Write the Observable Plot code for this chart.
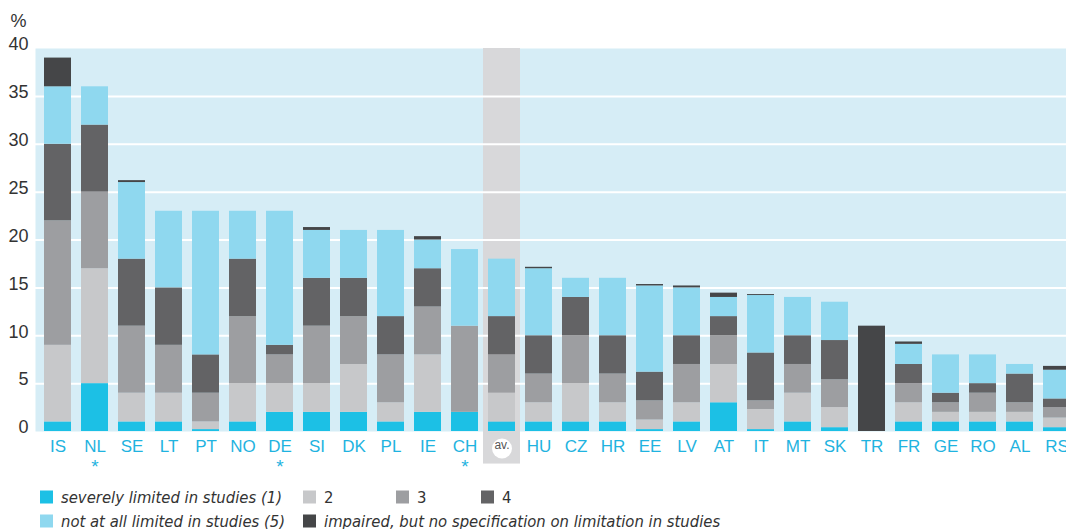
<!DOCTYPE html>
<html><head><meta charset="utf-8">
<script src="https://cdn.jsdelivr.net/npm/d3@7"></script>
<script src="https://cdn.jsdelivr.net/npm/@observablehq/plot@0.6"></script>
<style>
html,body{margin:0;padding:0;background:#fff;overflow:hidden;width:1066px;height:529px}
#wrap{position:relative;width:1066px;height:529px}
#chart svg{display:block;max-width:none}
#legend{position:absolute;left:0;top:0;width:1066px;height:529px;pointer-events:none;font-family:"Liberation Sans Narrow","DejaVu Sans Condensed",sans-serif;font-size:16.5px;color:#333}
.item{position:absolute;display:flex;align-items:center;white-space:nowrap;transform:translateY(-50%)}
.sw{width:13px;height:13px;margin-right:8px;flex:none}
.it{font-style:italic}
</style></head><body><div id="wrap"><div id="chart"></div><div id="legend"></div></div>
<script>
// ---- data ----
const countries = ["IS","NL","SE","LT","PT","NO","DE","SI","DK","PL","IE","CH","av.","HU","CZ","HR","EE","LV","AT","IT","MT","SK","TR","FR","GE","RO","AL","RS"];
const severelyLimited = [1,5,1,1,0.2,1,2,2,2,1,2,2,1,1,1,1,0.2,1,3,0.2,1,0.4,0,1,1,1,1,0.4];
const level2          = [8,12,3,3,0.8,4,3,3,5,2,6,0,3,2,4,2,1,2,4,2.1,3,2.1,0,2,1,1,1,1];
const level3          = [13,8,7,5,3,7,3,6,5,5,5,9,4,3,5,3,2,4,3,0.9,3,2.9,0,2,1,2,1,1.1];
const level4          = [8,7,7,6,4,6,1,5,4,4,4,0,4,4,4,4,3,3,2,5,3,4.1,0,2,1,1,3,0.9];
const notLimited      = [6,4,8,8,15,5,14,5,5,9,3,8,6,7,2,6,9,5,2,6,4,4,0,2.1,4,3,1,3];
const impairedNoSpec  = [3,0,0.2,0,0,0,0,0.3,0,0,0.35,0,0,0.15,0,0,0.15,0.2,0.45,0.1,0,0,11,0.25,0,0,0,0.4];
const seriesNames = ["severely limited in studies (1)","2","3","4","not at all limited in studies (5)","impaired, but no specification on limitation in studies"];
const seriesColors = ["#1cc0e5","#c7c8ca","#9d9ea1","#636365","#8fd8ef","#454648"];
const seriesValues = [severelyLimited, level2, level3, level4, notLimited, impairedNoSpec];
const yTicks = [0,5,10,15,20,25,30,35,40];
const gridTicks = [5,10,15,20,25,30,35];
const averageLabel = "av.";
const starred = ["NL","DE","CH"];
const highlightBottom = -3.4;

// ---- chart ----
const data = countries.flatMap((c, i) => seriesNames.map((s, j) => ({country: c, series: s, value: seriesValues[j][i]})));
const cyan = "#1fb3e0";
const chart = Plot.plot({
  width: 1066, height: 478,
  marginLeft: 35, marginRight: 0, marginTop: 48, marginBottom: 47,
  style: {fontFamily: "'Liberation Sans', Arial, sans-serif", background: "transparent"},
  x: {domain: countries, range: [33, 1081], padding: 0.27},
  y: {domain: [0, 40]},
  color: {domain: seriesNames, range: seriesColors},
  marks: [
    Plot.frame({fill: "#d6edf6", stroke: "none"}),
    Plot.barY([averageLabel], {x: d => d, y1: highlightBottom, y2: 40, fill: "#d8d8da", insetLeft: -5, insetRight: -5}),
    Plot.ruleY(gridTicks, {stroke: "white", strokeWidth: 2}),
    Plot.barY(data, {x: "country", y: "value", fill: "series"}),
    Plot.axisY({ticks: yTicks, tickSize: 0, tickPadding: 7, fontSize: 18, fill: "#333", dy: -4, label: null}),
    Plot.axisX({tickSize: 0, tickPadding: 8, fontSize: 17, fill: cyan, label: null, tickFormat: d => d === averageLabel ? "" : d}),
    Plot.dot([averageLabel], {x: d => d, frameAnchor: "bottom", dy: 17, r: 10, fill: "white", stroke: "none"}),
    Plot.text([averageLabel], {x: d => d, frameAnchor: "bottom", dy: 17, text: d => d, fill: "#555", fontSize: 12}),
    Plot.text(starred, {x: d => d, frameAnchor: "bottom", dy: 41, text: () => "*", fill: cyan, fontSize: 19}),
    Plot.text(["%"], {frameAnchor: "top-left", dx: -17, dy: -27, text: d => d, textAnchor: "middle", lineAnchor: "middle", fill: "#333", fontSize: 18})
  ]
});
document.getElementById("chart").appendChild(chart);

// ---- legend ----
const legendLayout = [
  {left: 40, top: 497}, {left: 303, top: 497}, {left: 396, top: 497}, {left: 481, top: 497},
  {left: 40, top: 521}, {left: 303, top: 521}
];
const legend = document.getElementById("legend");
seriesNames.forEach((name, i) => {
  const item = document.createElement("div");
  item.className = "item";
  item.style.left = legendLayout[i].left + "px";
  item.style.top = legendLayout[i].top + "px";
  const sw = document.createElement("span");
  sw.className = "sw";
  sw.style.background = seriesColors[i];
  const t = document.createElement("span");
  t.textContent = name;
  if (name.length > 1) t.className = "it";
  item.appendChild(sw); item.appendChild(t);
  legend.appendChild(item);
});
</script></body></html>
